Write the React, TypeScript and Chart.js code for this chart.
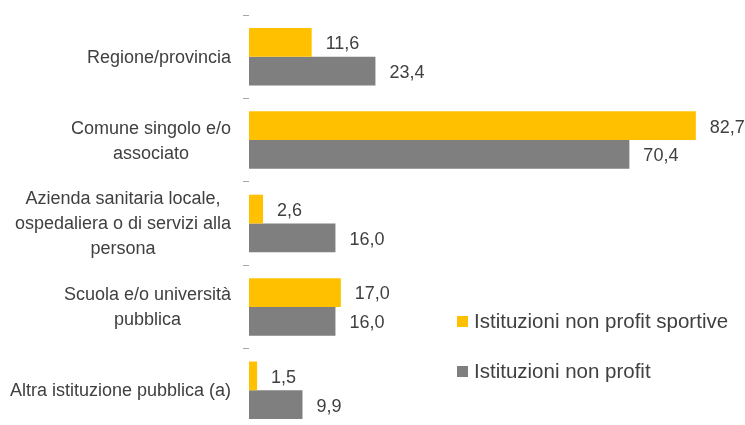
import React, { useEffect, useRef } from "react";
import { Chart, registerables } from "chart.js";

Chart.register(...registerables);

const categories: (string | string[])[] = [
  "Regione/provincia",
  ["Comune singolo e/o", "associato"],
  ["Azienda sanitaria locale,", "ospedaliera o di servizi alla", "persona"],
  ["Scuola e/o università", "pubblica"],
  "Altra istituzione pubblica (a)",
];
const sportive = [11.6, 82.7, 2.6, 17.0, 1.5];
const nonProfit = [23.4, 70.4, 16.0, 16.0, 9.9];
const seriesNames = ["Istituzioni non profit sportive", "Istituzioni non profit"];
const colors = ["#FFC000", "#7F7F7F"];

const FONT = "'Liberation Sans Narrow', 'Liberation Sans', Arial, sans-serif";
const LABEL_SIZE = 18;
const LINE_H = 25;

const valueLabels = {
  id: "valueLabels",
  afterDatasetsDraw(chart: any) {
    const ctx = chart.ctx;
    ctx.save();
    ctx.font = `18px ${FONT}`;
    ctx.fillStyle = "#404040";
    ctx.textAlign = "left";
    ctx.textBaseline = "middle";
    chart.data.datasets.forEach((ds: any, i: number) => {
      const meta = chart.getDatasetMeta(i);
      meta.data.forEach((el: any, j: number) => {
        const v = ds.data[j] as number;
        const txt = v.toFixed(1).replace(".", ",");
        ctx.fillText(txt, el.x + 14, el.y + 2);
      });
    });
    ctx.restore();
  },
};

const centeredCategoryLabels = {
  id: "centeredCategoryLabels",
  afterDraw(chart: any) {
    const ctx = chart.ctx;
    const scale = chart.scales.y;
    const right = scale.right - 6 - 12;
    ctx.save();
    ctx.font = `${LABEL_SIZE}px ${FONT}`;
    ctx.fillStyle = "#404040";
    ctx.textAlign = "center";
    ctx.textBaseline = "middle";
    (chart.data.labels as any[]).forEach((lab: any, i: number) => {
      const lines: string[] = Array.isArray(lab) ? lab : [lab];
      const maxW = Math.max(...lines.map((l) => ctx.measureText(l).width));
      const cx = right - maxW / 2;
      const cy = scale.getPixelForTick(i);
      const start = cy - ((lines.length - 1) * LINE_H) / 2;
      lines.forEach((l, k) => ctx.fillText(l, cx, start + k * LINE_H + 1));
    });
    ctx.restore();
  },
};

export default function App() {
  const ref = useRef<HTMLCanvasElement>(null);
  useEffect(() => {
    if (!ref.current) return;
    const chart = new Chart(ref.current, {
      type: "bar",
      data: {
        labels: categories,
        datasets: [
          {
            label: seriesNames[0],
            data: sportive,
            backgroundColor: colors[0],
            categoryPercentage: 0.69,
            barPercentage: 1,
          },
          {
            label: seriesNames[1],
            data: nonProfit,
            backgroundColor: colors[1],
            categoryPercentage: 0.69,
            barPercentage: 1,
          },
        ],
      },
      options: {
        indexAxis: "y",
        animation: false,
        responsive: false,
        layout: { padding: { top: 15, bottom: 0, left: 0, right: 0 } },
        plugins: {
          legend: { display: false },
          tooltip: { enabled: false },
        },
        scales: {
          x: {
            display: false,
            min: 0,
            max: 91.8,
          },
          y: {
            afterFit: (scale: any) => {
              scale.width = 249;
              scale.paddingTop = 0;
              scale.paddingBottom = 0;
            },
            border: { display: false },
            grid: {
              offset: true,
              drawOnChartArea: false,
              drawTicks: true,
              tickLength: 6,
              color: "#A6A6A6",
            },
            ticks: {
              padding: 12,
              color: "rgba(0,0,0,0)",
              font: { family: FONT, size: LABEL_SIZE, lineHeight: 1.4 },
            },
          },
        },
      },
      plugins: [valueLabels, centeredCategoryLabels],
    });
    return () => chart.destroy();
  }, []);

  const legendItem = (i: number, top: number) => (
    <div
      style={{
        position: "absolute",
        left: 457,
        top,
        display: "flex",
        alignItems: "center",
        fontFamily: FONT,
        fontSize: 20.5,
        color: "#404040",
        whiteSpace: "nowrap",
      }}
    >
      <span
        style={{
          display: "inline-block",
          width: 11,
          height: 11,
          background: colors[i],
          marginRight: 6,
        }}
      />
      {seriesNames[i]}
    </div>
  );

  return (
    <div
      style={{
        position: "fixed",
        left: 0,
        top: 0,
        width: 745,
        height: 432,
        background: "#fff",
      }}
    >
      <canvas ref={ref} width={745} height={432} style={{ display: "block" }} />
      {legendItem(0, 309)}
      {legendItem(1, 359)}
    </div>
  );
}
